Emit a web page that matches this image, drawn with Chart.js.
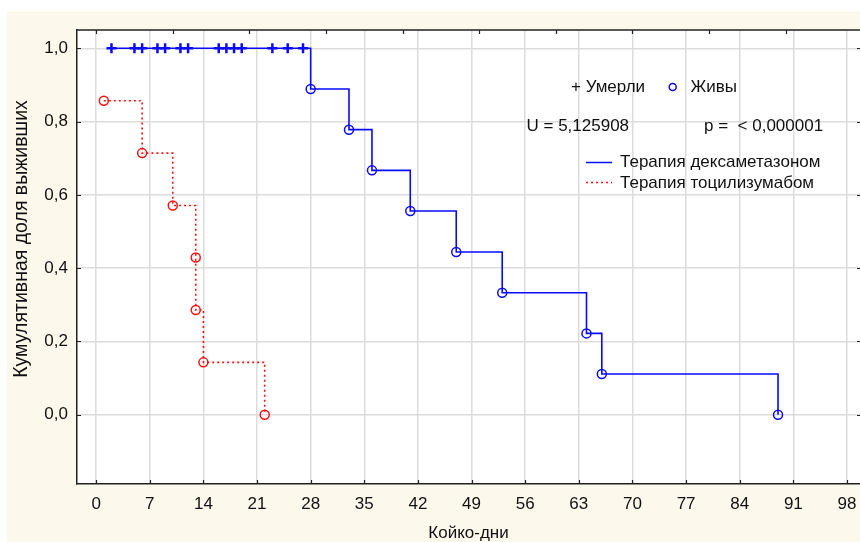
<!DOCTYPE html>
<html>
<head>
<meta charset="utf-8">
<script src="https://cdn.jsdelivr.net/npm/chart.js@4.4.1/dist/chart.umd.min.js"></script>
<style>
  html, body { margin: 0; padding: 0; background: #ffffff; overflow: hidden; }
  #bg { position: absolute; left: 7px; top: 11px; width: 853px; height: 531px; background: #fdf8ec; }
  #wrap { position: absolute; left: 0; top: 0; width: 860px; height: 542px; }
</style>
</head>
<body>
<div id="bg"></div>
<div id="wrap"><canvas id="c"></canvas></div>
<script>
// ---- data ----
const xTicks = [0, 7, 14, 21, 28, 35, 42, 49, 56, 63, 70, 77, 84, 91, 98];
const yTicks = [0, 0.2, 0.4, 0.6, 0.8, 1.0];
const topTicks = [0, 10, 20, 30, 40, 50, 60, 70, 80, 90];

// Dexamethasone group: censored ("+") marks at survival 1.0
const dexaCensoredDays = [2, 5, 6, 8, 9, 11, 12, 16, 17, 18, 19, 23, 25, 27];
// Dexamethasone group: event days and survival after event
const dexaEventDays = [28, 33, 36, 41, 47, 53, 64, 66, 89];
const dexaEventSurv = [0.889, 0.778, 0.667, 0.556, 0.444, 0.333, 0.222, 0.111, 0.0];
const dexaStartDay = 2;
const dexaStartSurv = 1.0;

// Tocilizumab group
const tociDays = [1, 6, 10, 13, 13, 14, 22];
const tociSurv = [0.857, 0.714, 0.571, 0.429, 0.286, 0.143, 0.0];

const legendTexts = {
  died: '+ Умерли',
  alive: 'Живы',
  u: 'U = 5,125908',
  p: 'p =  < 0,000001',
  dexa: 'Терапия дексаметазоном',
  toci: 'Терапия тоцилизумабом'
};
const xTitle = 'Койко-дни';
const yTitle = 'Кумулятивная доля выживших';

// ---- build chart ----
const BLUE = '#0a0aff';
const RED = '#ff1010';
const FONT = '"Liberation Sans", Arial, sans-serif';

const pts = (xs, ys) => xs.map((x, i) => ({ x: x, y: ys[i] }));
const dexaCensoredPts = dexaCensoredDays.map(d => ({ x: d, y: dexaStartSurv }));
const dexaEventPts = pts(dexaEventDays, dexaEventSurv);
const dexaLinePts = [{ x: dexaStartDay, y: dexaStartSurv }].concat(dexaEventPts);
const tociPts = pts(tociDays, tociSurv);

const deco = {
  id: 'deco',
  beforeDraw(chart) {
    const { ctx, chartArea: a } = chart;
    ctx.save();
    ctx.fillStyle = '#ffffff';
    ctx.fillRect(a.left, a.top, a.right - a.left, a.bottom - a.top);
    ctx.restore();
  },
  afterDraw(chart) {
    const { ctx, chartArea: a, scales } = chart;
    const xs = scales.x, ys = scales.y;
    ctx.save();
    // top border
    ctx.strokeStyle = '#222';
    ctx.lineWidth = 1.5;
    ctx.beginPath();
    ctx.moveTo(a.left, a.top);
    ctx.lineTo(a.right, a.top);
    ctx.stroke();
    // inward ticks
    ctx.lineWidth = 1.2;
    ctx.beginPath();
    xTicks.forEach(v => {
      const px = Math.round(xs.getPixelForValue(v)) + 0.5;
      ctx.moveTo(px, a.bottom); ctx.lineTo(px, a.bottom - 4);
    });
    topTicks.forEach(v => {
      const px = Math.round(xs.getPixelForValue(v)) + 0.5;
      ctx.moveTo(px, a.top); ctx.lineTo(px, a.top + 4);
    });
    yTicks.forEach(v => {
      const py = Math.round(ys.getPixelForValue(v)) + 0.5;
      ctx.moveTo(a.left, py); ctx.lineTo(a.left + 4, py);
      ctx.moveTo(a.right, py); ctx.lineTo(a.right - 3, py);
    });
    ctx.stroke();

    // y-axis title
    ctx.fillStyle = '#111';
    ctx.save();
    ctx.translate(22, 239);
    ctx.rotate(-Math.PI / 2);
    ctx.font = '19.5px ' + FONT;
    ctx.textAlign = 'center';
    ctx.textBaseline = 'middle';
    ctx.fillText(yTitle, 0, 0);
    ctx.restore();

    // legend / annotations
    ctx.font = '17px ' + FONT;
    ctx.textBaseline = 'middle';
    ctx.textAlign = 'left';
    ctx.fillText(legendTexts.died, 571, 87);
    ctx.strokeStyle = BLUE;
    ctx.lineWidth = 1.5;
    ctx.beginPath();
    ctx.arc(672.7, 87, 3.5, 0, Math.PI * 2);
    ctx.stroke();
    ctx.fillText(legendTexts.alive, 690.5, 87);
    ctx.fillText(legendTexts.u, 526.5, 126);
    ctx.fillText(legendTexts.p, 704, 126);

    ctx.strokeStyle = BLUE;
    ctx.lineWidth = 1.5;
    ctx.beginPath();
    ctx.moveTo(586, 162.5); ctx.lineTo(612, 162.5);
    ctx.stroke();
    ctx.fillText(legendTexts.dexa, 620, 162);

    ctx.strokeStyle = RED;
    ctx.setLineDash([2, 3]);
    ctx.beginPath();
    ctx.moveTo(586, 182.5); ctx.lineTo(612, 182.5);
    ctx.stroke();
    ctx.setLineDash([]);
    ctx.fillText(legendTexts.toci, 620, 183);
    ctx.restore();
  }
};

new Chart(document.getElementById('c'), {
  type: 'scatter',
  data: {
    datasets: [
      {
        label: 'dexa censored',
        data: dexaCensoredPts,
        pointStyle: 'cross',
        pointRadius: 5,
        pointBorderWidth: 2.5,
        borderColor: BLUE,
        backgroundColor: BLUE,
        showLine: false
      },
      {
        label: 'dexa events',
        data: dexaEventPts,
        pointStyle: 'circle',
        pointRadius: 4.5,
        pointBorderWidth: 1.5,
        borderColor: BLUE,
        backgroundColor: 'rgba(0,0,0,0)',
        showLine: false
      },
      {
        label: 'toci events',
        data: tociPts,
        pointStyle: 'circle',
        pointRadius: 4.5,
        pointBorderWidth: 1.5,
        borderColor: RED,
        backgroundColor: 'rgba(0,0,0,0)',
        showLine: false
      },
      {
        label: legendTexts.dexa,
        data: dexaLinePts,
        showLine: true,
        stepped: 'before',
        borderColor: BLUE,
        borderWidth: 1.6,
        pointRadius: 0,
        fill: false
      },
      {
        label: legendTexts.toci,
        data: tociPts,
        showLine: true,
        stepped: 'before',
        borderColor: RED,
        borderWidth: 1.6,
        borderDash: [2, 3],
        pointRadius: 0,
        fill: false
      }
    ]
  },
  options: {
    responsive: true,
    maintainAspectRatio: false,
    animation: false,
    events: [],
    layout: { autoPadding: false, padding: { left: 0, top: 30, right: 0, bottom: 0 } },
    plugins: { legend: { display: false }, tooltip: { enabled: false } },
    scales: {
      x: {
        type: 'linear',
        min: -2.5,
        max: 99.7,
        afterBuildTicks: s => { s.ticks = xTicks.map(v => ({ value: v })); },
        afterFit: s => { s.height = 58; },
        ticks: { font: { size: 17, family: FONT }, color: '#111', padding: 0, autoSkip: false, maxRotation: 0 },
        grid: { color: '#dcdcdc', lineWidth: 1.5, drawTicks: true, tickLength: 10, tickColor: 'rgba(0,0,0,0)' },
        border: { color: '#222', width: 1.5 },
        title: { display: true, text: xTitle, font: { size: 17, family: FONT }, color: '#111', padding: { top: 0, bottom: -2 } }
      },
      y: {
        type: 'linear',
        min: -0.189,
        max: 1.05,
        afterBuildTicks: s => { s.ticks = yTicks.map(v => ({ value: v })); },
        afterFit: s => { s.width = 77; },
        ticks: {
          font: { size: 17, family: FONT }, color: '#111', padding: 9,
          callback: v => v.toFixed(1).replace('.', ',')
        },
        grid: { color: '#dcdcdc', lineWidth: 1.5, drawTicks: false },
        border: { color: '#222', width: 1.5 },
        title: { display: false }
      }
    }
  },
  plugins: [deco]
});
</script>
</body>
</html>
